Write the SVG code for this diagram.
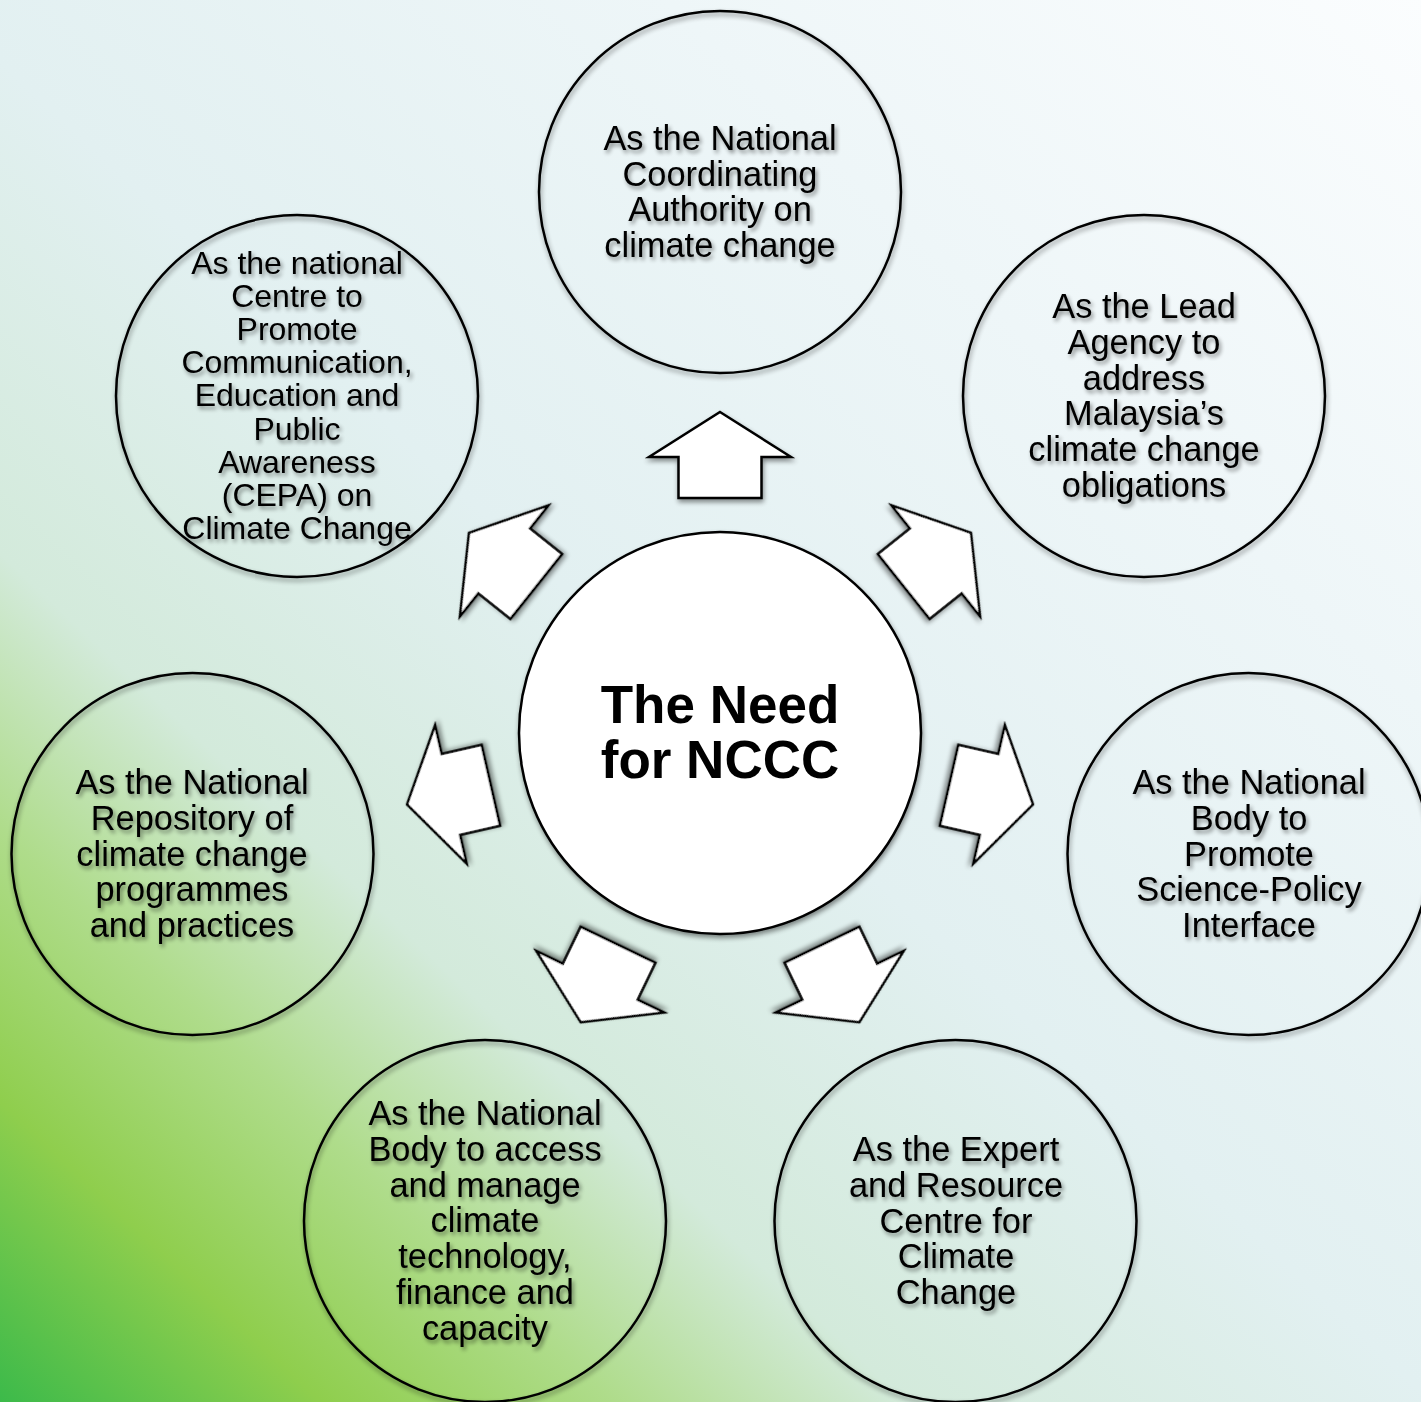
<svg xmlns="http://www.w3.org/2000/svg" width="1421" height="1402" viewBox="0 0 1421 1402">
<defs>
<linearGradient id="bg" gradientUnits="userSpaceOnUse" x1="0" y1="1402" x2="1366" y2="-58">
<stop offset="0" stop-color="#3cba4a"/>
<stop offset="0.11" stop-color="#8fce4d"/>
<stop offset="0.21" stop-color="#afdc8b"/>
<stop offset="0.31" stop-color="#d3eadb"/>
<stop offset="0.49" stop-color="#e2f0f1"/>
<stop offset="0.74" stop-color="#eef6f8"/>
<stop offset="1" stop-color="#fbfdfe"/>
</linearGradient>
<filter id="sh" x="-20%" y="-20%" width="140%" height="140%">
<feGaussianBlur in="SourceAlpha" stdDeviation="2.5"/>
<feOffset dx="1" dy="3" result="b"/>
<feComponentTransfer><feFuncA type="linear" slope="0.45"/></feComponentTransfer>
<feMerge><feMergeNode/><feMergeNode in="SourceGraphic"/></feMerge>
</filter>
<filter id="tsh" x="-20%" y="-20%" width="140%" height="140%">
<feGaussianBlur in="SourceAlpha" stdDeviation="2.2"/>
<feOffset dx="2" dy="3"/>
<feComponentTransfer><feFuncA type="linear" slope="0.45"/></feComponentTransfer>
<feMerge><feMergeNode/><feMergeNode in="SourceGraphic"/></feMerge>
</filter>
<path id="arw" d="M720,412 L791,457 L761.5,457 L761.5,498 L678.5,498 L678.5,457 L649,457 Z"/>
</defs>
<style>
.ring{fill:none;stroke:#000;stroke-width:2.5;filter:url(#sh)}
.core{fill:#fff;stroke:#000;stroke-width:2.5;filter:url(#sh)}
.arrow{fill:#fff;stroke:#000;stroke-width:2.5;stroke-linejoin:miter;filter:url(#sh)}
.t{font-family:"Liberation Sans",Arial,sans-serif;font-size:34.4px;fill:#000;text-anchor:middle;filter:url(#tsh)}
.ts{font-size:32px}
.c{font-family:"Liberation Sans",Arial,sans-serif;font-size:53px;font-weight:bold;fill:#000;text-anchor:middle}
</style>
<rect id="background" x="0" y="0" width="1421" height="1402" fill="url(#bg)"/>
<g id="connectors">
<use href="#arw" class="arrow"/>
<use href="#arw" class="arrow" transform="rotate(51.4286 720 733)"/>
<use href="#arw" class="arrow" transform="rotate(102.857 720 733)"/>
<use href="#arw" class="arrow" transform="rotate(154.286 720 733)"/>
<use href="#arw" class="arrow" transform="rotate(205.714 720 733)"/>
<use href="#arw" class="arrow" transform="rotate(257.143 720 733)"/>
<use href="#arw" class="arrow" transform="rotate(308.571 720 733)"/>
</g>
<g id="node-center">
<circle class="core" cx="720" cy="733" r="201"/>
<text class="c" x="720" y="723">The Need</text>
<text class="c" x="720" y="778">for NCCC</text>
</g>
<g id="node-coordinating">
<circle class="ring" cx="720" cy="192" r="181"/>
<text class="t" x="720" y="150">As the National</text>
<text class="t" x="720" y="185.7">Coordinating</text>
<text class="t" x="720" y="221.4">Authority on</text>
<text class="t" x="720" y="257.1">climate change</text>
</g>
<g id="node-lead-agency">
<circle class="ring" cx="1144" cy="396" r="181"/>
<text class="t" x="1144" y="318">As the Lead</text>
<text class="t" x="1144" y="353.8">Agency to</text>
<text class="t" x="1144" y="389.6">address</text>
<text class="t" x="1144" y="425.4">Malaysia’s</text>
<text class="t" x="1144" y="461.2">climate change</text>
<text class="t" x="1144" y="497">obligations</text>
</g>
<g id="node-science-policy">
<circle class="ring" cx="1248.5" cy="854" r="181"/>
<text class="t" x="1249" y="794">As the National</text>
<text class="t" x="1249" y="829.8">Body to</text>
<text class="t" x="1249" y="865.6">Promote</text>
<text class="t" x="1249" y="901.4">Science-Policy</text>
<text class="t" x="1249" y="937.2">Interface</text>
</g>
<g id="node-expert">
<circle class="ring" cx="955.5" cy="1221" r="181"/>
<text class="t" x="956" y="1161">As the Expert</text>
<text class="t" x="956" y="1196.8">and Resource</text>
<text class="t" x="956" y="1232.6">Centre for</text>
<text class="t" x="956" y="1268.4">Climate</text>
<text class="t" x="956" y="1304.2">Change</text>
</g>
<g id="node-technology">
<circle class="ring" cx="485" cy="1221" r="181"/>
<text class="t" x="485" y="1125">As the National</text>
<text class="t" x="485" y="1160.8">Body to access</text>
<text class="t" x="485" y="1196.6">and manage</text>
<text class="t" x="485" y="1232.4">climate</text>
<text class="t" x="485" y="1268.2">technology,</text>
<text class="t" x="485" y="1304">finance and</text>
<text class="t" x="485" y="1339.8">capacity</text>
</g>
<g id="node-repository">
<circle class="ring" cx="192.5" cy="854" r="181"/>
<text class="t" x="192" y="794">As the National</text>
<text class="t" x="192" y="829.8">Repository of</text>
<text class="t" x="192" y="865.6">climate change</text>
<text class="t" x="192" y="901.4">programmes</text>
<text class="t" x="192" y="937.2">and practices</text>
</g>
<g id="node-cepa">
<circle class="ring" cx="297" cy="396" r="181"/>
<text class="t ts" x="297" y="274">As the national</text>
<text class="t ts" x="297" y="307.1">Centre to</text>
<text class="t ts" x="297" y="340.2">Promote</text>
<text class="t ts" x="297" y="373.3">Communication,</text>
<text class="t ts" x="297" y="406.4">Education and</text>
<text class="t ts" x="297" y="439.5">Public</text>
<text class="t ts" x="297" y="472.6">Awareness</text>
<text class="t ts" x="297" y="505.7">(CEPA) on</text>
<text class="t ts" x="297" y="538.8">Climate Change</text>
</g>
</svg>
